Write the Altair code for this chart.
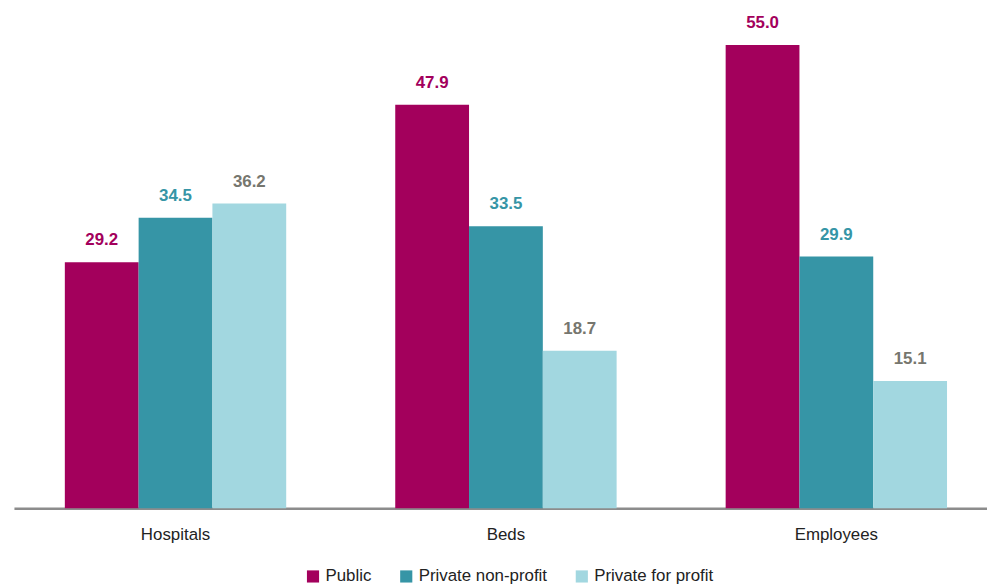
import altair as alt
import pandas as pd

categories = ["Hospitals", "Beds", "Employees"]
series = ["Public", "Private non-profit", "Private for profit"]
public = [29.2, 47.9, 55.0]
nonprofit = [34.5, 33.5, 29.9]
forprofit = [36.2, 18.7, 15.1]

bar_colors = ["#A3005C", "#3695A6", "#A2D7E0"]
label_colors = ["#A3005C", "#3695A6", "#76766E"]

rows = []
for i, c in enumerate(categories):
    for s, vals in zip(series, [public, nonprofit, forprofit]):
        rows.append({"category": c, "series": s, "value": vals[i]})
df = pd.DataFrame(rows)

FONT = "Liberation Sans, Arial, sans-serif"

x_enc = alt.X("category:N", sort=categories, title=None,
              scale=alt.Scale(range=[0, 992], paddingInner=0.33, paddingOuter=0.154),
              axis=alt.Axis(labelAngle=0, ticks=False, labelPadding=18,
                            labelFontSize=17, labelColor="#222222", labelFont=FONT,
                            domainColor="#8C8C8C", domainWidth=2.5))
xo_enc = alt.XOffset("series:N", sort=series,
                     scale=alt.Scale(paddingInner=0, paddingOuter=0))
y_enc = alt.Y("value:Q", title=None,
              scale=alt.Scale(domain=[0, 55], nice=False, zero=True),
              axis=None)

base = alt.Chart(df)

bars = base.mark_bar().encode(
    x=x_enc, xOffset=xo_enc, y=y_enc,
    color=alt.Color("series:N", sort=series, title=None,
                    scale=alt.Scale(domain=series, range=bar_colors),
                    legend=alt.Legend(orient="none", direction="horizontal",
                                      legendX=293, legendY=527,
                                      symbolType="square", symbolSize=150,
                                      symbolStrokeWidth=0,
                                      labelFontSize=17, labelFont=FONT,
                                      labelColor="#222222", columnPadding=26,
                                      symbolOffset=0, labelOffset=4)),
)

labels = base.mark_text(baseline="bottom", dy=-13, fontSize=17,
                        fontWeight="bold", font=FONT).encode(
    x=x_enc, xOffset=xo_enc, y=y_enc,
    text=alt.Text("value:Q", format=".1f"),
    color=alt.Color("series:N", sort=series,
                    scale=alt.Scale(domain=series, range=label_colors),
                    legend=None),
)

chart = alt.layer(bars, labels).resolve_scale(color="independent").properties(
    width=981, height=467,
    autosize=alt.AutoSizeParams(type="none"),
    padding={"left": 6, "top": 35, "right": 0, "bottom": 75},
).configure_view(stroke=None)

chart.save("out.html", embed_options={"renderer": "svg", "actions": False})
